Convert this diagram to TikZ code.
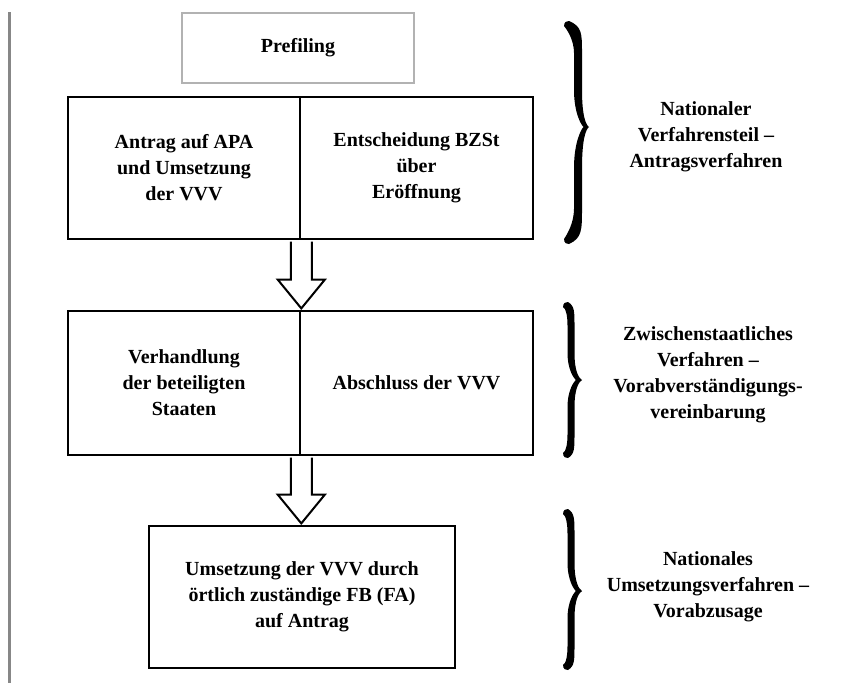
\documentclass[tikz,border=0pt]{standalone}
\usepackage{fontspec}
\setmainfont{Liberation Serif}
\usetikzlibrary{calc}
\newcommand\mybrace[7]{%
  % #1 end x, #2 spine x, #3 tip x, #4 top y, #5 mid y, #6 bottom y, #7 half width
  \fill[black] (#1,{#4+5})
    .. controls (#1,{#4+1}) and ({#1+3},{#4-0.5}) .. ({#1+5},#4)
    .. controls ({#2+#7},{#4+0.05*(#5-#4)}) and ({#2+#7},{#4+0.12*(#5-#4)}) .. ({#2+#7},{#4+0.3*(#5-#4)})
    -- ({#2+#7},{#5-0.35*(#5-#4)})
    .. controls ({#2+#7},{#5-0.1*(#5-#4)}) and ({#3-3},{#5-2}) .. (#3,#5)
    .. controls ({#3-3},{#5+2}) and ({#2+#7},{#5+0.1*(#6-#5)}) .. ({#2+#7},{#5+0.35*(#6-#5)})
    -- ({#2+#7},{#6-0.3*(#6-#5)})
    .. controls ({#2+#7},{#6-0.12*(#6-#5)}) and ({#2+#7},{#6-0.05*(#6-#5)}) .. ({#1+5},#6)
    .. controls ({#1+3},{#6+0.5}) and (#1,{#6-1}) .. (#1,{#6-5})
    .. controls ({#1+3},{#6-0.08*(#6-#5)}) and ({#2-#7},{#6-0.18*(#6-#5)}) .. ({#2-#7},{#6-0.3*(#6-#5)})
    -- ({#2-#7},{#5+0.35*(#6-#5)})
    .. controls ({#2-#7},{#5+0.12*(#6-#5)}) and ({#2+#7},{#5+1}) .. ({#2+#7+1.5},#5)
    .. controls ({#2+#7},{#5-1}) and ({#2-#7},{#5-0.12*(#5-#4)}) .. ({#2-#7},{#5-0.35*(#5-#4)})
    -- ({#2-#7},{#4+0.3*(#5-#4)})
    .. controls ({#2-#7},{#4+0.18*(#5-#4)}) and ({#1+3},{#4+0.08*(#5-#4)}) .. (#1,{#4+5}) -- cycle;}
\tikzset{
  txt/.style={font=\fontsize{20}{26}\selectfont\bfseries, align=center, inner sep=0pt},
  box/.style={txt, draw=black, line width=2.6pt, fill=none},
  greybox/.style={txt, draw=black!30, line width=2pt},
  blockarrow/.style={draw=black, line width=2pt, fill=white, line join=miter},
  label/.style={txt}
}
\begin{document}
\begin{tikzpicture}[x=1pt,y=-1pt]
\useasboundingbox[fill=white] (0,0) rectangle (851,683);
% left grey rule
\draw[line width=3.6pt, black!47] (9.3,12) -- (9.3,683);
% Prefiling
\node[greybox, minimum width=232pt, minimum height=70pt] (pre) at (298,48) {Prefiling};
% box 1
\node[box, minimum width=232pt, minimum height=142pt] (b1l) at (184,168)
  {Antrag auf APA\\und Umsetzung\\der VVV};
\node[box, minimum width=233pt, minimum height=142pt] (b1r) at (416.5,168)
  {Entscheidung BZSt\\über\\Eröffnung};
% box 2
\node[box, minimum width=232pt, minimum height=144pt] (b2l) at (184,383)
  {Verhandlung\\der beteiligten\\Staaten};
\node[box, minimum width=233pt, minimum height=144pt] (b2r) at (416.5,383)
  {Abschluss der VVV};
% box 3
\node[box, minimum width=306pt, minimum height=142pt] (b3) at (302,597)
  {Umsetzung der VVV durch\\örtlich zuständige FB (FA)\\auf Antrag};
% arrow 1
\draw[blockarrow]
  ($(b1l.south east)+(-10.5,1.3)$) -- ($(b2l.north east)+(-10.5,-30)$)
  -- ($(b2l.north east)+(-23.5,-30)$) -- ($(b2l.north east)+(0,-1.3)$)
  -- ($(b2l.north east)+(23.5,-30)$) -- ($(b2l.north east)+(10.5,-30)$)
  -- ($(b1l.south east)+(10.5,1.3)$);
% arrow 2
\coordinate (a2tip) at (b2l.south east |- b3.north);
\draw[blockarrow]
  ($(b2l.south east)+(-10.5,1.3)$) -- ($(a2tip)+(-10.5,-30)$)
  -- ($(a2tip)+(-23.5,-30)$) -- ($(a2tip)+(0,-1.3)$)
  -- ($(a2tip)+(23.5,-30)$) -- ($(a2tip)+(10.5,-30)$)
  -- ($(b2l.south east)+(10.5,1.3)$);
% braces
\mybrace{564}{578}{589}{21}{127}{244}{4}
\mybrace{563}{571}{582}{302}{380}{458}{3.5}
\mybrace{563}{571}{582}{509}{591}{670}{3.5}
% labels
\node[label] (l1) at (706,137) {Nationaler\\Verfahrensteil –\\Antragsverfahren};
\node[label] (l2) at (708,375) {Zwischenstaatliches\\Verfahren –\\Vorabverständigungs-\\vereinbarung};
\node[label] (l3) at (708,587) {Nationales\\Umsetzungsverfahren –\\Vorabzusage};
\end{tikzpicture}
\end{document}
